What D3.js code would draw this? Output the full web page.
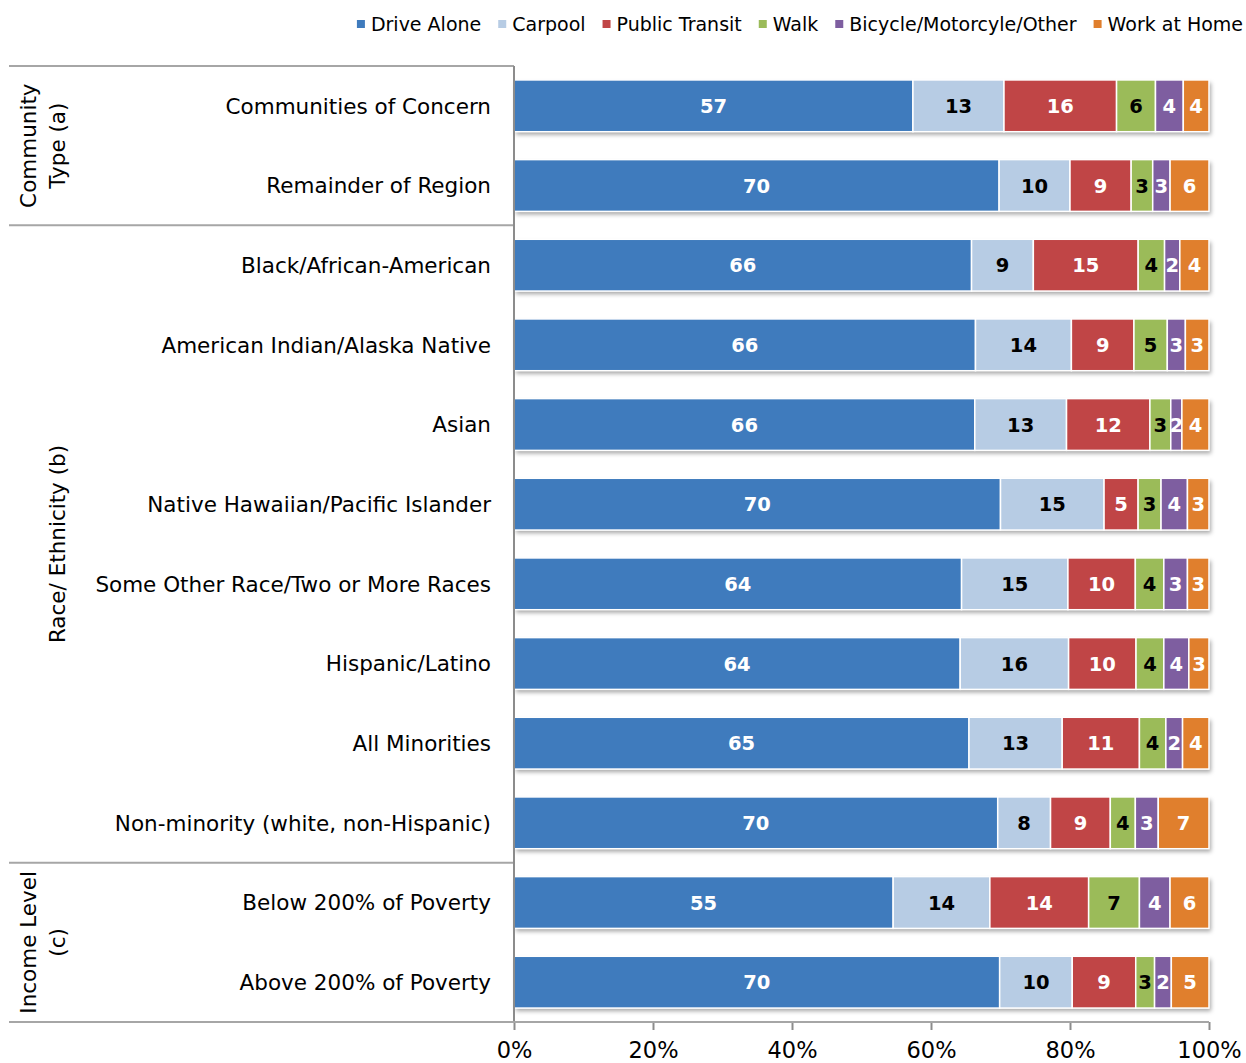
<!DOCTYPE html>
<html>
<head>
  <meta charset="utf-8">
  <title>Commute Mode Share</title>
  <script src="https://d3js.org/d3.v7.min.js"></script>
  <style>
    body { margin: 0; background: #fff; }
    svg { display: block; font-family: "DejaVu Sans", Verdana, sans-serif; }
    .cat { font-size: 21.5px; fill: #000; }
    .grp { font-size: 21.5px; fill: #000; }
    .val { font-size: 19.5px; font-weight: bold; }
    .tick text { font-size: 22.5px; fill: #000; }
    .legend text { font-size: 19px; fill: #000; }
  </style>
</head>
<body>
<script>
  // Data
  var modes = ["Drive Alone", "Carpool", "Public Transit", "Walk", "Bicycle/Motorcyle/Other", "Work at Home"];
  var colors = ["#3f7bbd", "#b7cce4", "#c04546", "#9bbb59", "#7e5ea0", "#e07f2d"];
  var labelColors = ["#fff", "#000", "#fff", "#000", "#fff", "#fff"];

  var categories = [
    "Communities of Concern", "Remainder of Region",
    "Black/African-American", "American Indian/Alaska Native", "Asian",
    "Native Hawaiian/Pacific Islander", "Some Other Race/Two or More Races",
    "Hispanic/Latino", "All Minorities", "Non-minority (white, non-Hispanic)",
    "Below 200% of Poverty", "Above 200% of Poverty"
  ];

  var driveAlone    = [57.4, 69.8, 65.9, 66.4, 66.3, 70.0, 64.4, 64.2, 65.4, 69.6, 54.5, 69.6];
  var carpool       = [13.1, 10.2,  8.9, 13.8, 13.2, 14.9, 15.3, 15.6, 13.4,  7.6, 13.9, 10.4];
  var publicTransit = [16.2,  8.8, 15.1,  9.0, 12.0,  4.9,  9.7,  9.7, 11.1,  8.6, 14.2,  9.1];
  var walk          = [ 5.6,  3.1,  3.8,  4.8,  3.0,  3.3,  4.1,  4.0,  3.8,  3.6,  7.3,  2.7];
  var bicycleOther  = [ 4.0,  2.5,  2.2,  2.6,  1.6,  3.8,  3.4,  3.6,  2.4,  3.3,  4.4,  2.4];
  var workAtHome    = [ 3.7,  5.6,  4.2,  3.4,  3.9,  3.1,  3.1,  2.9,  3.8,  7.3,  5.6,  5.4];

  var groups = [
    {lines: ["Community", "Type (a)"], first: 0, last: 1},
    {lines: ["Race/ Ethnicity (b)"], first: 2, last: 9},
    {lines: ["Income Level", "(c)"], first: 10, last: 11}
  ];
  var xTicks = [0, 0.2, 0.4, 0.6, 0.8, 1];

  var series = [driveAlone, carpool, publicTransit, walk, bicycleOther, workAtHome];
  var table = categories.map(function(c, i) {
    var row = {category: c};
    modes.forEach(function(m, j) { row[m] = series[j][i]; });
    return row;
  });

  // Consts (window.top is read-only, so use other names)
  var W = 1246, H = 1063;
  var plotL = 514, plotR = 1209, plotT = 66, plotB = 1022;

  var svg = d3.select("body").append("svg")
      .attr("width", W)
      .attr("height", H);

  var defs = svg.append("defs");
  var f = defs.append("filter").attr("id", "shadow")
      .attr("x", "-5%").attr("y", "-20%").attr("width", "110%").attr("height", "150%");
  f.append("feDropShadow")
      .attr("dx", 2).attr("dy", 3).attr("stdDeviation", 2)
      .attr("flood-color", "#000").attr("flood-opacity", 0.35);

  // Scales
  var x = d3.scaleLinear().domain([0, 1]).range([plotL, plotR]);
  var y = d3.scaleBand().domain(categories).range([plotT, plotB])
      .paddingInner(0.35).paddingOuter(0.175);

  var stack = d3.stack().keys(modes).offset(d3.stackOffsetExpand);
  var stacked = stack(table);

  // Bars: shadow layer first, then segments
  svg.append("g").selectAll("rect")
    .data(categories)
    .enter().append("rect")
      .attr("x", x(0))
      .attr("y", function(d) { return y(d); })
      .attr("width", x(1) - x(0))
      .attr("height", y.bandwidth())
      .attr("fill", "#fff")
      .attr("filter", "url(#shadow)");

  var layer = svg.append("g").selectAll("g")
    .data(stacked)
    .enter().append("g")
      .attr("fill", function(d, i) { return colors[i]; });

  layer.selectAll("rect")
    .data(function(d) { return d; })
    .enter().append("rect")
      .attr("x", function(d) { return x(d[0]); })
      .attr("y", function(d) { return y(d.data.category); })
      .attr("width", function(d) { return x(d[1]) - x(d[0]); })
      .attr("height", y.bandwidth())
      .attr("stroke", "#fff")
      .attr("stroke-width", 1.5);

  // Value labels
  layer.selectAll("text")
    .data(function(d, i) { return d.map(function(p) { return {p: p, i: i, key: d.key}; }); })
    .enter().append("text")
      .attr("class", "val")
      .attr("x", function(d) { return (x(d.p[0]) + x(d.p[1])) / 2; })
      .attr("y", function(d) { return y(d.p.data.category) + y.bandwidth() / 2; })
      .attr("dy", "0.36em")
      .attr("text-anchor", "middle")
      .attr("fill", function(d) { return labelColors[d.i]; })
      .text(function(d) { return Math.round(d.p.data[d.key]); });

  // Category labels
  svg.append("g").selectAll("text")
    .data(categories)
    .enter().append("text")
      .attr("class", "cat")
      .attr("x", 491)
      .attr("y", function(d) { return y(d) + y.bandwidth() / 2; })
      .attr("dy", "0.36em")
      .attr("text-anchor", "end")
      .text(function(d) { return d; });

  // Group separators + group labels
  var step = y.step();
  var sepYs = [plotT].concat(groups.map(function(g) { return plotT + step * (g.last + 1); }));
  svg.append("g").selectAll("line")
    .data(sepYs)
    .enter().append("line")
      .attr("x1", 9).attr("x2", plotL)
      .attr("y1", function(d) { return d; }).attr("y2", function(d) { return d; })
      .attr("stroke", "#a6a6a6").attr("stroke-width", 2);

  groups.forEach(function(g) {
    var cy = plotT + step * (g.first + g.last + 1) / 2;
    var xs = g.lines.length === 2 ? [28, 57] : [57];
    g.lines.forEach(function(t, k) {
      svg.append("text")
        .attr("class", "grp")
        .attr("transform", "translate(" + xs[k] + "," + cy + ") rotate(-90)")
        .attr("text-anchor", "middle")
        .attr("dy", "0.36em")
        .text(t);
    });
  });

  // Vertical category axis line
  svg.append("line")
    .attr("x1", plotL).attr("x2", plotL)
    .attr("y1", plotT).attr("y2", plotB)
    .attr("stroke", "#8c8c8c").attr("stroke-width", 2);

  // X axis
  var xAxis = svg.append("g")
    .attr("transform", "translate(0," + plotB + ")")
    .call(d3.axisBottom(x).tickValues(xTicks).tickFormat(d3.format(".0%")).tickSize(8).tickPadding(12));
  xAxis.select(".domain").remove();
  xAxis.selectAll(".tick line").attr("stroke", "#8c8c8c").attr("stroke-width", 2);
  xAxis.attr("font-family", null).attr("font-size", null);
  svg.append("line")
    .attr("x1", 9).attr("x2", plotR)
    .attr("y1", plotB).attr("y2", plotB)
    .attr("stroke", "#a6a6a6").attr("stroke-width", 2);

  // Legend, right-aligned
  var legend = svg.append("g").attr("class", "legend");
  var items = legend.selectAll("g")
    .data(modes)
    .enter().append("g");
  items.append("rect")
    .attr("width", 8).attr("height", 8)
    .attr("y", 20)
    .attr("fill", function(d, i) { return colors[i]; });
  items.append("text")
    .attr("x", 14).attr("y", 24).attr("dy", "0.36em")
    .text(function(d) { return d; });
  var widths = [];
  items.each(function() { widths.push(d3.select(this).select("text").node().getComputedTextLength() + 14); });
  var gap = 17;
  var total = d3.sum(widths) + gap * (widths.length - 1);
  var cursor = 1243 - total;
  items.attr("transform", function(d, i) {
    var t = "translate(" + cursor + ",0)";
    cursor += widths[i] + gap;
    return t;
  });
</script>
</body>
</html>
